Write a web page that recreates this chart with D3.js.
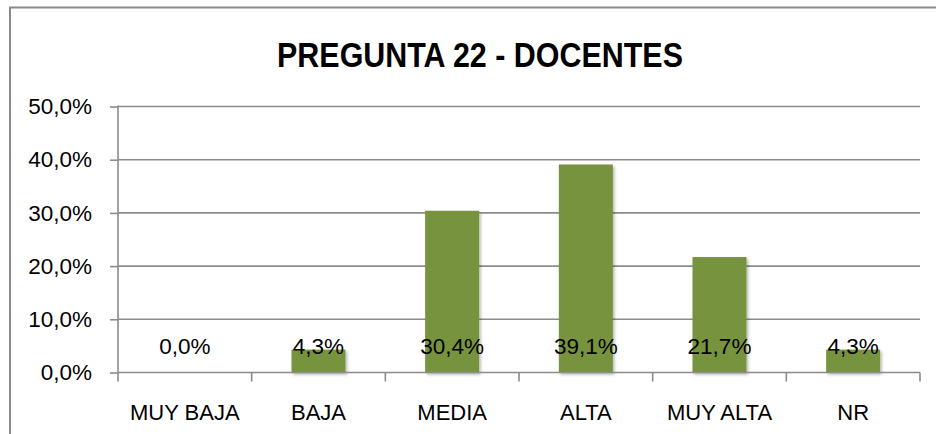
<!DOCTYPE html>
<html>
<head>
<meta charset="utf-8">
<title>Pregunta 22 - Docentes</title>
<script src="https://cdnjs.cloudflare.com/ajax/libs/d3/7.8.5/d3.min.js"></script>
<style>
  body { margin: 0; background: #fff; }
  svg text { font-family: "Liberation Sans", Arial, sans-serif; fill: #000; }
</style>
</head>
<body>
<script>
// chart data
var categories = ["MUY BAJA", "BAJA", "MEDIA", "ALTA", "MUY ALTA", "NR"];
var values = [0.0, 4.3, 30.4, 39.1, 21.7, 4.3];
var yTicks = [0, 10, 20, 30, 40, 50];
var title = "PREGUNTA 22 - DOCENTES";

var W = 936, H = 434;
var plotL = 118, plotR = 920, plotT = 106.5, plotB = 372.5;

var svg = d3.select("body").append("svg")
  .attr("width", W)
  .attr("height", H);

// soft shadow under the bars
var defs = svg.append("defs");
var f = defs.append("filter").attr("id", "shadow")
  .attr("x", "-10%").attr("y", "-10%").attr("width", "130%").attr("height", "130%");
f.append("feDropShadow").attr("dx", 1.5).attr("dy", 2).attr("stdDeviation", 1.5)
  .attr("flood-color", "#000").attr("flood-opacity", 0.3);

// outer chart border (right/bottom fall outside the picture)
svg.append("rect")
  .attr("x", 10).attr("y", 7.5)
  .attr("width", W + 20).attr("height", H + 20)
  .attr("fill", "none").attr("stroke", "#8a8a8a").attr("stroke-width", 2);

var x = d3.scaleBand().domain(categories).range([plotL, plotR]).paddingInner(0).paddingOuter(0);
var y = d3.scaleLinear().domain([0, 50]).range([plotB, plotT]);

function pct(d) { return d3.format(".1f")(d).replace(".", ",") + "%"; }

// gridlines
svg.append("g")
  .selectAll("line")
  .data(yTicks.filter(function(d) { return d > 0; }))
  .enter().append("line")
  .attr("x1", plotL).attr("x2", plotR)
  .attr("y1", function(d) { return y(d); })
  .attr("y2", function(d) { return y(d); })
  .attr("stroke", "#8c8c8c").attr("stroke-width", 1.6);

// y axis
var yAxis = d3.axisLeft(y).tickValues(yTicks).tickSize(8).tickPadding(18).tickFormat(pct);
var gy = svg.append("g").attr("transform", "translate(" + plotL + ",0)").call(yAxis);
gy.select(".domain").remove();
gy.selectAll(".tick line").attr("stroke", "#8c8c8c").attr("stroke-width", 1.6);
gy.selectAll(".tick text").attr("font-size", 22.5).attr("fill", "#000")
  .attr("font-family", "'Liberation Sans', Arial, sans-serif");
gy.append("line").attr("x1", 0).attr("x2", 0).attr("y1", plotT - 1).attr("y2", plotB + 9)
  .attr("stroke", "#8c8c8c").attr("stroke-width", 1.6);

// bars
var barW = 54;
svg.append("g")
  .selectAll("rect")
  .data(values)
  .enter().append("rect")
  .attr("x", function(d, i) { return x(categories[i]) + x.bandwidth() / 2 - barW / 2; })
  .attr("y", function(d) { return y(d); })
  .attr("width", barW)
  .attr("height", function(d) { return y(0) - y(d); })
  .attr("fill", "#77933c")
  .attr("filter", "url(#shadow)");

// x axis
var xAxis = d3.axisBottom(x).tickSize(0).tickPadding(32);
var gx = svg.append("g").attr("transform", "translate(0," + plotB + ")").call(xAxis);
gx.select(".domain").remove();
gx.selectAll(".tick text").attr("font-size", 22).attr("fill", "#000")
  .attr("font-family", "'Liberation Sans', Arial, sans-serif");
gx.append("line").attr("x1", plotL).attr("x2", plotR).attr("y1", 0).attr("y2", 0)
  .attr("stroke", "#8c8c8c").attr("stroke-width", 1.6);
gx.selectAll(".sep")
  .data(categories)
  .enter().append("line")
  .attr("class", "sep")
  .attr("x1", function(d) { return x(d) + x.bandwidth(); })
  .attr("x2", function(d) { return x(d) + x.bandwidth(); })
  .attr("y1", 0).attr("y2", 9)
  .attr("stroke", "#8c8c8c").attr("stroke-width", 1.6);

// data labels, all sitting just above the baseline
svg.append("g")
  .selectAll("text")
  .data(values)
  .enter().append("text")
  .attr("x", function(d, i) { return x(categories[i]) + x.bandwidth() / 2; })
  .attr("y", y(0) - 19)
  .attr("text-anchor", "middle")
  .attr("font-size", 22.5)
  .text(pct);

// title, squeezed to the narrow look of the original
var t = svg.append("text")
  .attr("text-anchor", "middle")
  .attr("font-size", 36)
  .attr("font-weight", "bold")
  .text(title);
var tw = t.node().getComputedTextLength();
t.attr("transform", "translate(480,67) scale(" + (406 / tw) + ",1)");
</script>
</body>
</html>
